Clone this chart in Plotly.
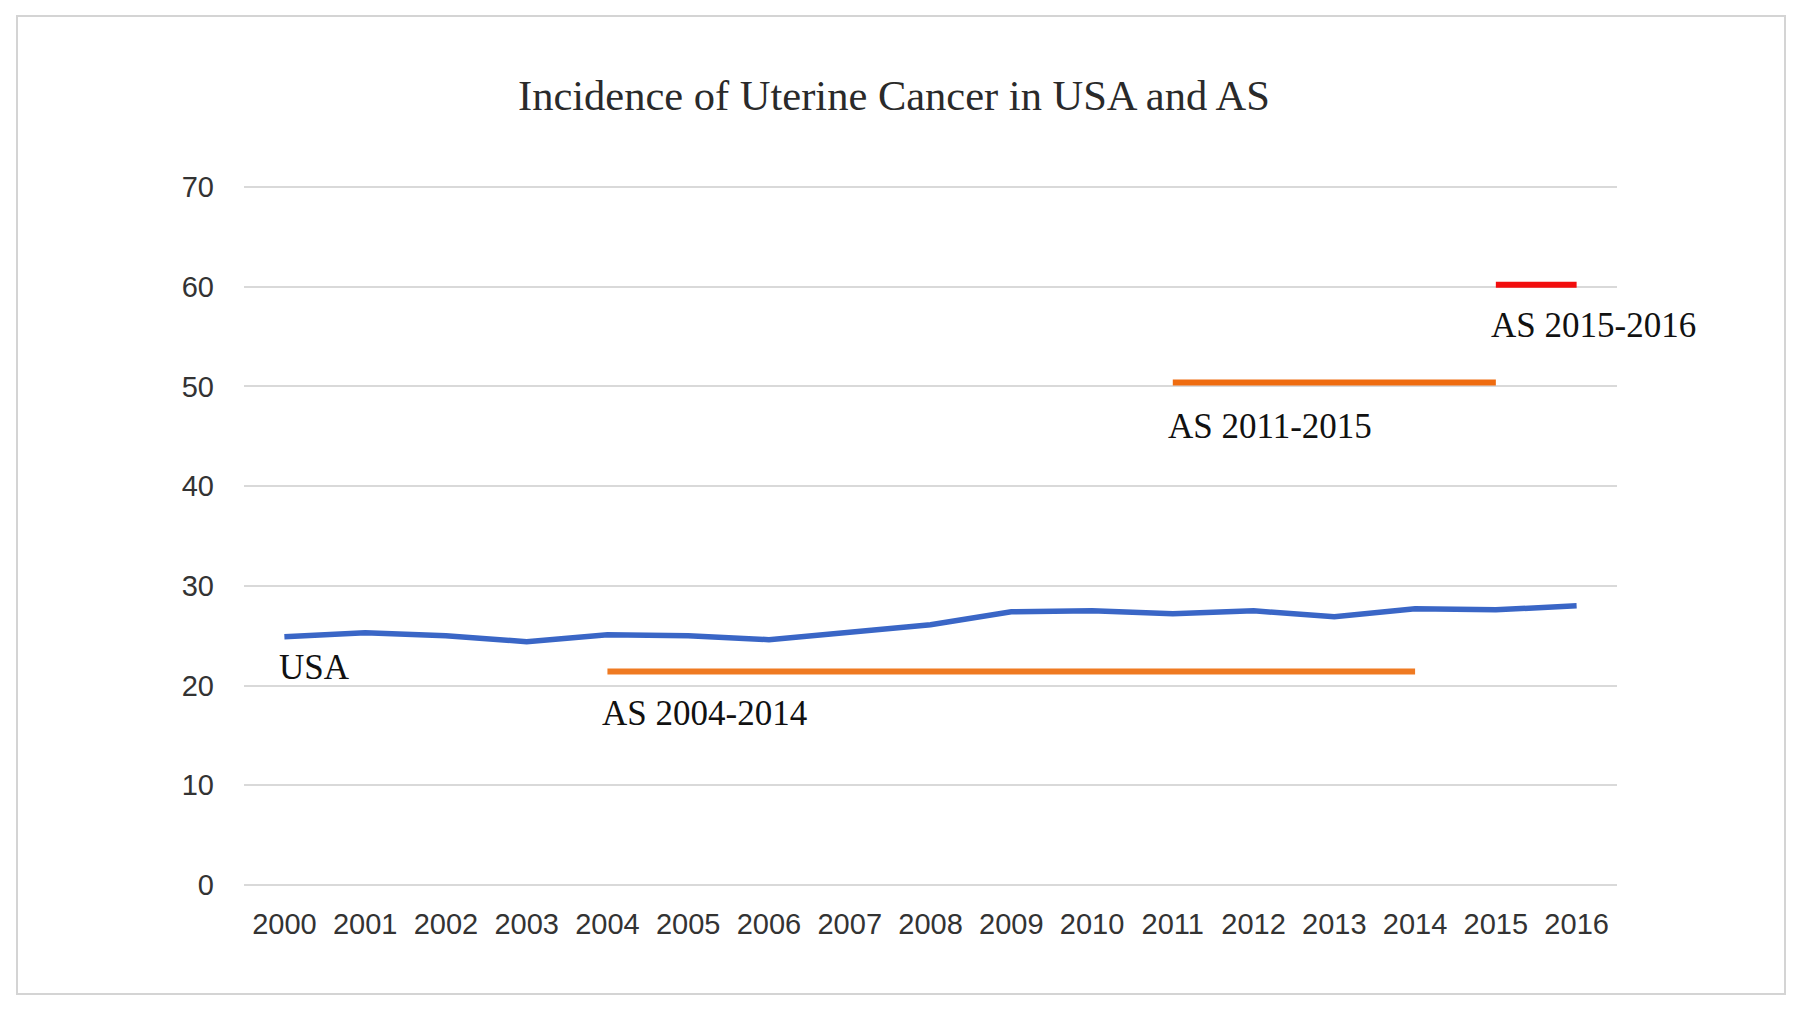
import plotly.graph_objects as go

years = list(range(2000, 2017))
usa = [24.9, 25.3, 25.0, 24.4, 25.1, 25.0, 24.6, 25.3, 26.1, 27.4, 27.5, 27.2, 27.5, 26.9, 27.7, 27.6, 28.0]

as_2004_years = [2004, 2014]
as_2004_vals = [21.4, 21.4]
as_2011_years = [2011, 2015]
as_2011_vals = [50.4, 50.4]
as_2015_years = [2015, 2016]
as_2015_vals = [60.2, 60.2]

y_ticks = [0, 10, 20, 30, 40, 50, 60, 70]

PAD = 0.3  # range padding (data units) so that the 0 and 70 gridlines are drawn
W, H = 1784, 993
L, R, T, B = 236, 175, 176, 113
PW, PH = W - L - R, H - T - B

fig = go.Figure()
fig.add_trace(go.Scatter(x=years, y=usa, mode="lines", name="USA",
                         line=dict(color="#3a66c6", width=5.5)))
fig.add_trace(go.Scatter(x=as_2004_years, y=as_2004_vals, mode="lines", name="AS 2004-2014",
                         line=dict(color="#ef7a22", width=6)))
fig.add_trace(go.Scatter(x=as_2011_years, y=as_2011_vals, mode="lines", name="AS 2011-2015",
                         line=dict(color="#ef6c10", width=6)))
fig.add_trace(go.Scatter(x=as_2015_years, y=as_2015_vals, mode="lines", name="AS 2015-2016",
                         line=dict(color="#f20d0d", width=6)))

serif = "Liberation Serif, Times New Roman, serif"
ann_font = dict(family=serif, size=35, color="#111111")
annotations = [
    dict(x=2000, y=21.8, text="USA"),
    dict(x=2004, y=17.2, text="AS 2004-2014"),
    dict(x=2011, y=46.0, text="AS 2011-2015"),
    dict(x=2015, y=56.1, text="AS 2015-2016"),
]
for a in annotations:
    a.update(xref="x", yref="y", xanchor="left", yanchor="middle", showarrow=False,
             font=ann_font, xshift=-7)

fig.update_layout(
    width=W, height=H,
    paper_bgcolor="white", plot_bgcolor="white",
    margin=dict(l=L, r=R, t=T, b=B),
    showlegend=False,
    title=dict(text="Incidence of Uterine Cancer in USA and AS", x=0.4966, xanchor="center",
               y=1 - 87 / H, yanchor="middle", yref="container",
               font=dict(family=serif, size=42.5, color="#2a2a2a")),
    annotations=annotations,
    shapes=[dict(type="rect", xref="paper", yref="paper",
                 x0=(9 - L) / PW, x1=(1777 - L) / PW,
                 y0=-(986 - (H - B)) / PH, y1=1 + (T - 8) / PH,
                 line=dict(color="#d4d4d4", width=2), layer="below")],
)
fig.update_xaxes(range=[1999.5, 2016.5], tickvals=years, ticktext=[str(y) for y in years],
                 showgrid=False, zeroline=False, showline=False, ticks="",
                 tickfont=dict(family="Liberation Sans, Arial, sans-serif", size=29, color="#333333"),
                 ticklabelstandoff=16)
fig.update_yaxes(range=[-PAD, 70 + PAD], tickvals=y_ticks, showgrid=True, gridcolor="#d9d9d9", gridwidth=2,
                 zeroline=False, showline=False, ticks="",
                 tickfont=dict(family="Liberation Sans, Arial, sans-serif", size=29, color="#333333"),
                 ticklabelstandoff=29)

fig.write_html("out.html")
